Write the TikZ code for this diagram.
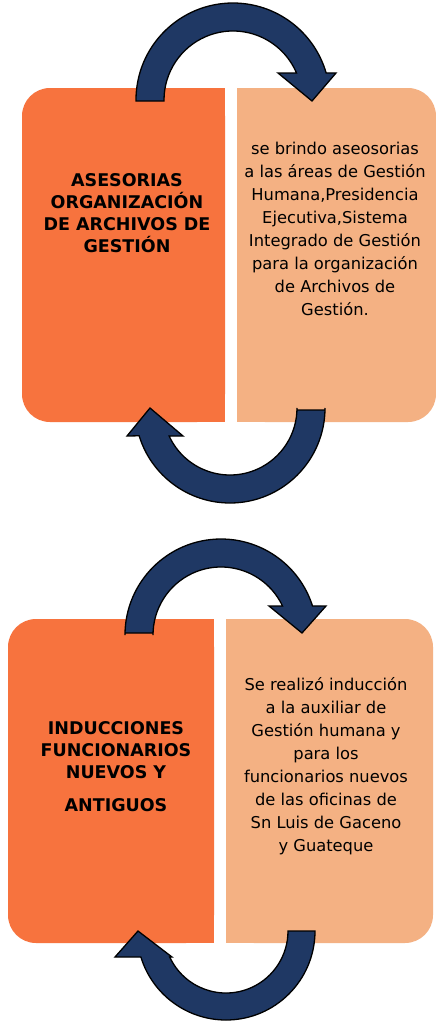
\documentclass[tikz,border=0pt]{standalone}
\usepackage{fontspec}
\setmainfont{DejaVu Sans}
\definecolor{naranja}{HTML}{F7733E}
\definecolor{durazno}{HTML}{F4B183}
\definecolor{azulflecha}{HTML}{1F3864}
\begin{document}
\begin{tikzpicture}[x=1pt,y=-1pt,
  flecha/.style={fill=azulflecha,draw=black,line width=1.3pt,line join=miter},
  titulo/.style={font=\bfseries\fontsize{17.5}{22}\selectfont,align=center},
  texto/.style={font=\fontsize{16.3}{23}\selectfont,align=center}]
\useasboundingbox (0,0) rectangle (436,1023);
\fill[white] (0,0) rectangle (436,1023);
\fill[naranja,rounded corners=28] (22,88) rectangle (225,422);
\fill[naranja] (120,88) rectangle (225,422);
\fill[durazno,rounded corners=28] (237,88) rectangle (436,422);
\fill[durazno] (237,88) rectangle (330,422);
\fill[naranja,rounded corners=28] (8,619) rectangle (214,943);
\fill[naranja] (110,619) rectangle (214,943);
\fill[durazno,rounded corners=28] (226,619) rectangle (433,943);
\fill[durazno] (226,619) rectangle (330,943);
\draw[flecha] (136,101) -- (136,100) arc[start angle=180,end angle=343.8,radius=97]
  -- (336,73) -- (312,101) -- (278,73) -- ([shift={(233,100)}]337:69)
  arc[start angle=337,end angle=180,radius=69] -- (164,101) -- cycle;
\draw[flecha] (325,410) -- (325,408) arc[start angle=0,end angle=163,radius=95]
  -- (127,436) -- (150,408) -- (183,436) -- ([shift={(230,408)}]155.3:67)
  arc[start angle=155.3,end angle=0,radius=67] -- (297,410) -- cycle;
\draw[flecha] (125,633) -- (125,635) arc[start angle=180,end angle=342.4,radius=96]
  -- (326,606) -- (302,633) -- (269,606) -- ([shift={(221,635)}]334.8:68)
  arc[start angle=334.8,end angle=180,radius=68] -- (153,633) -- cycle;
\draw[flecha] (315,931) arc[start angle=0,end angle=163,radius=89]
  -- (115,957) -- (138,931) -- (172,957) -- ([shift={(226,931)}]155.2:62)
  arc[start angle=155.2,end angle=0,radius=62] -- cycle;
\node[titulo] (tituloA) at (127,213) {ASESORIAS\\ORGANIZACIÓN\\DE ARCHIVOS DE\\GESTIÓN};
\node[texto] (textoA) at (335,229) {se brindo aseosorias\\a las áreas de Gestión\\Humana,Presidencia\\Ejecutiva,Sistema\\Integrado de Gestión\\para la organización\\de Archivos de\\Gestión.};
\node[titulo] (tituloB) at (116,767) {INDUCCIONES\\FUNCIONARIOS\\NUEVOS Y\\[11pt]ANTIGUOS};
\node[texto] (textoB) at (326,766) {Se realizó inducción\\a la auxiliar de\\Gestión humana y\\para los\\funcionarios nuevos\\de las oficinas de\\Sn Luis de Gaceno\\y Guateque};
\end{tikzpicture}
\end{document}
